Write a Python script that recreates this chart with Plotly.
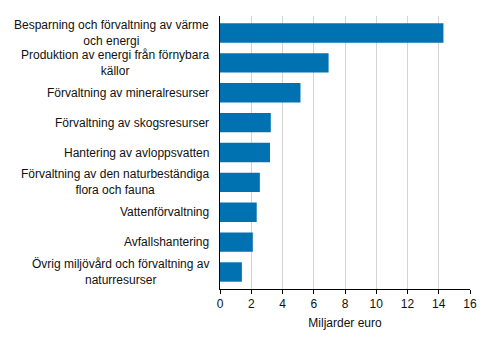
import plotly.graph_objects as go

categories = [
    "Besparning och förvaltning av värme<br>och energi",
    "Produktion av energi från förnybara<br>källor",
    "Förvaltning av mineralresurser",
    "Förvaltning av skogsresurser",
    "Hantering av avloppsvatten",
    "Förvaltning av den naturbeständiga<br>flora och fauna",
    "Vattenförvaltning",
    "Avfallshantering",
    "Övrig miljövård och förvaltning av<br>naturresurser",
]
values = [14.3, 6.95, 5.15, 3.25, 3.2, 2.55, 2.35, 2.1, 1.4]
x_ticks = [0, 2, 4, 6, 8, 10, 12, 14, 16]

font_family = "Liberation Sans, Arial, sans-serif"

fig = go.Figure(
    go.Bar(
        x=values,
        y=categories,
        orientation="h",
        marker=dict(color="#0072B2", line=dict(width=0)),
        width=0.65,
    )
)

# Category labels as centred multi-line annotations left of the axis
for cat in categories:
    fig.add_annotation(
        x=0, xref="paper", y=cat, yref="y",
        text=cat, showarrow=False,
        xanchor="right", xshift=-9, align="center",
        font=dict(family=font_family, size=12, color="#111111"),
    )

fig.update_layout(
    width=491, height=340,
    margin=dict(l=220, r=21, t=16, b=47),
    paper_bgcolor="white", plot_bgcolor="white",
    showlegend=False,
    font=dict(family=font_family, size=12, color="#111111"),
    bargap=0.35,
)
fig.update_xaxes(
    range=[0, 16], tickvals=x_ticks, ticktext=[str(t) for t in x_ticks],
    showgrid=True, gridcolor="#d3d3d3", gridwidth=1,
    showline=True, linecolor="#000000", linewidth=1,
    ticks="outside", ticklen=4, tickcolor="#000000",
    zeroline=False,
    title=dict(text="Miljarder euro", standoff=8,
               font=dict(family=font_family, size=12)),
    tickfont=dict(family=font_family, size=12),
)
fig.update_yaxes(
    categoryorder="array", categoryarray=categories[::-1],
    showticklabels=False, showgrid=False,
    showline=True, linecolor="#000000", linewidth=1,
    ticks="",
)

fig.write_html("out.html")
